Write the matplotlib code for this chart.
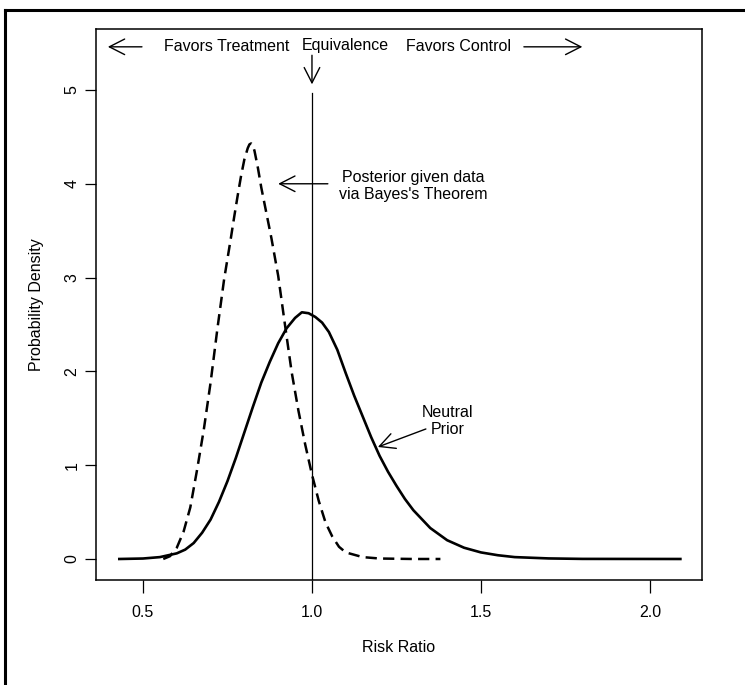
import numpy as np
import matplotlib
matplotlib.use("Agg")
from matplotlib import pyplot as plt
from matplotlib.lines import Line2D

plt.rcParams['font.family'] = ['Liberation Sans', 'DejaVu Sans']

# neutral prior (solid)
prior_x = [0.43, 0.50, 0.55, 0.60, 0.625, 0.65, 0.675, 0.70, 0.725, 0.75, 0.775,
           0.80, 0.825, 0.85, 0.875, 0.90, 0.925, 0.95, 0.97, 0.99, 1.01, 1.03,
           1.05, 1.075, 1.10, 1.125, 1.15, 1.175, 1.20, 1.225, 1.25, 1.275, 1.30,
           1.35, 1.40, 1.45, 1.50, 1.55, 1.60, 1.70, 1.80, 2.09]
prior_y = [0.0, 0.005, 0.02, 0.06, 0.10, 0.17, 0.28, 0.42, 0.61, 0.83, 1.08,
           1.35, 1.62, 1.88, 2.10, 2.30, 2.46, 2.57, 2.63, 2.62, 2.58, 2.52,
           2.42, 2.23, 1.98, 1.74, 1.52, 1.30, 1.10, 0.93, 0.78, 0.64, 0.52,
           0.33, 0.20, 0.12, 0.07, 0.04, 0.02, 0.006, 0.001, 0.0]

# posterior (dashed)
post_x = [0.56, 0.58, 0.60, 0.62, 0.64, 0.66, 0.68, 0.70, 0.72, 0.74, 0.76, 0.77,
          0.78, 0.79, 0.80, 0.81, 0.815, 0.82, 0.825, 0.83, 0.84, 0.85, 0.86, 0.88,
          0.90, 0.92, 0.94, 0.96, 0.98, 1.00, 1.02, 1.04, 1.06, 1.08, 1.10, 1.15,
          1.20, 1.30, 1.38]
post_y = [0.0, 0.03, 0.12, 0.29, 0.55, 0.95, 1.38, 1.88, 2.45, 2.98, 3.42, 3.65,
          3.87, 4.08, 4.26, 4.38, 4.42, 4.43, 4.41, 4.35, 4.17, 3.96, 3.78, 3.42,
          3.02, 2.50, 1.99, 1.58, 1.22, 0.90, 0.62, 0.39, 0.24, 0.13, 0.07, 0.02,
          0.005, 0.0, 0.0]

x_ticks = [0.5, 1.0, 1.5, 2.0]
x_tick_labels = ['0.5', '1.0', '1.5', '2.0']
y_ticks = [0, 1, 2, 3, 4, 5]

FS = 11.5

fig = plt.figure(figsize=(7.45, 6.85), dpi=100)
ax = fig.add_axes([96 / 745, 1 - 580 / 685, (702 - 96) / 745, (580 - 29) / 685])

ax.plot(prior_x, prior_y, color='black', lw=1.9, solid_joinstyle='round')
ax.plot(post_x, post_y, color='black', lw=1.8, linestyle=(0, (4.5, 2.5)))

# equivalence line
ax.plot([1.0, 1.0], [-0.3, 4.97], color='black', lw=0.9)

ax.set_xlim(0.361, 2.154)
ax.set_ylim(-0.224, 5.65)
ax.set_xticks(x_ticks)
ax.set_xticklabels(x_tick_labels)
ax.set_yticks(y_ticks)
for lab in ax.get_yticklabels():
    lab.set_rotation(90)
    lab.set_va('center')
ax.tick_params(axis='x', length=9, width=0.9, pad=9, labelsize=FS)
ax.tick_params(axis='y', length=8, width=0.9, pad=4, labelsize=FS)
for s in ax.spines.values():
    s.set_linewidth(1.1)

fig.text(37 / 745, 1 - 305 / 685, 'Probability Density', rotation=90,
         ha='center', va='center', fontsize=FS)
fig.text(399 / 745, 1 - 648 / 685, 'Risk Ratio', ha='center', va='center', fontsize=FS)

aprops = dict(arrowstyle='->,head_length=0.55,head_width=0.28', lw=1.0,
              color='black', mutation_scale=20, shrinkA=0, shrinkB=0)

# top annotations
ax.annotate('', xy=(0.396, 5.46), xytext=(0.497, 5.46), arrowprops=aprops)
ax.text(0.562, 5.46, 'Favors Treatment', ha='left', va='center', fontsize=FS)
ax.text(1.10, 5.47, 'Equivalence', ha='center', va='center', fontsize=FS)
ax.annotate('', xy=(1.0, 5.06), xytext=(1.0, 5.37), arrowprops=aprops)
ax.text(1.278, 5.46, 'Favors Control', ha='left', va='center', fontsize=FS)
ax.annotate('', xy=(1.80, 5.46), xytext=(1.627, 5.46), arrowprops=aprops)

# posterior label
ax.text(1.30, 3.98, "Posterior given data\nvia Bayes's Theorem", ha='center',
        va='center', fontsize=FS, multialignment='center', linespacing=1.15)
ax.annotate('', xy=(0.90, 4.0), xytext=(1.047, 4.0), arrowprops=aprops)

# prior label
ax.text(1.402, 1.47, 'Neutral\nPrior', ha='center', va='center', fontsize=FS,
        multialignment='center', linespacing=1.15)
ax.annotate('', xy=(1.195, 1.194), xytext=(1.337, 1.386), arrowprops=aprops)

# outer frame (top and left edges visible)
fig.add_artist(Line2D([5 / 745, 5 / 745], [-0.05, 1 - 10 / 685], color='black', lw=2.2,
                      transform=fig.transFigure))
fig.add_artist(Line2D([5 / 745, 1.05], [1 - 10 / 685, 1 - 10 / 685], color='black', lw=2.2,
                      transform=fig.transFigure))

fig.savefig('out.png', dpi=100)
